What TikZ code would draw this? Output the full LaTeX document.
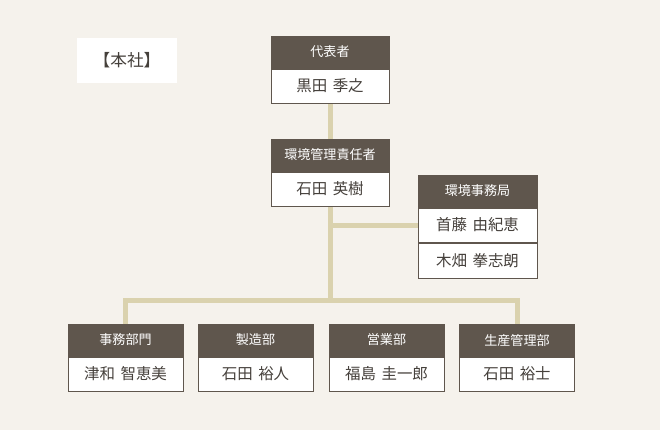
\documentclass[tikz,border=0pt]{standalone}
\usepackage{fontspec}
\setmainfont{Noto Sans CJK JP}[WordSpace=1.6]
\usetikzlibrary{positioning,backgrounds}
\definecolor{OrgBg}{HTML}{F5F2EC}
\definecolor{OrgHead}{HTML}{5F564D}
\definecolor{OrgLine}{HTML}{DAD2AE}
\definecolor{OrgText}{HTML}{45403B}

\begin{document}
\begin{tikzpicture}[x=0.75pt,y=-0.75pt,
  head/.style={fill=OrgHead,draw=OrgHead,line width=0.75pt,text=white,font=\fontsize{9.8}{11}\selectfont,minimum width=#1,minimum height=24pt,inner sep=0pt},
  person/.style={fill=white,draw=OrgHead,line width=0.75pt,text=OrgText,font=\fontsize{11.6}{13}\selectfont,minimum width=#1,minimum height=25.5pt,inner sep=0pt},
  orgline/.style={draw=OrgLine,line width=3.75pt}]
% 本社
\node[fill=white,minimum width=75pt,minimum height=33.75pt,text=OrgText,font=\fontsize{12.5}{14}\selectfont] (honsha) at (127,60.5) {【本社】};
% 代表者
\node[head=88.5pt] (daihyo) at (330,52) {代表者};
\node[person=88.5pt,below=0pt of daihyo] (daihyo-n) {黒田 季之};
% 環境管理責任者
\node[head=88.5pt] (sekinin) at (330,155) {環境管理責任者};
\node[person=88.5pt,below=0pt of sekinin] (sekinin-n) {石田 英樹};
% 環境事務局
\node[head=89.25pt] (jimu) at (477.5,191) {環境事務局};
\node[person=89.25pt,below=0pt of jimu] (jimu-a) {首藤 由紀恵};
\node[person=89.25pt,minimum height=26.25pt,below=0pt of jimu-a] (jimu-b) {木畑 拳志朗};
% 部門
\node[head=86.25pt] (bumon1) at (125.5,340) {事務部門};
\node[person=86.25pt,below=0pt of bumon1] (bumon1-n) {津和 智恵美};
\node[head=86.25pt] (bumon2) at (255.5,340) {製造部};
\node[person=86.25pt,below=0pt of bumon2] (bumon2-n) {石田 裕人};
\node[head=86.25pt] (bumon3) at (386.5,340) {営業部};
\node[person=86.25pt,below=0pt of bumon3] (bumon3-n) {福島 圭一郎};
\node[head=86.25pt] (bumon4) at (517,340) {生産管理部};
\node[person=86.25pt,below=0pt of bumon4] (bumon4-n) {石田 裕士};
\coordinate (bus) at (330,300);
\begin{scope}[on background layer]
\fill[OrgBg] (0,0) rectangle (660,430);
\draw[orgline] (daihyo-n.south) -- (sekinin.north);
\draw[orgline] (sekinin-n.south) -- (bus);
\draw[orgline] (jimu-a.west) -- (jimu-a.west -| sekinin-n.south);
\draw[orgline] (bumon1.north) |- (bus) -| (bumon4.north);
\end{scope}
\end{tikzpicture}
\end{document}
